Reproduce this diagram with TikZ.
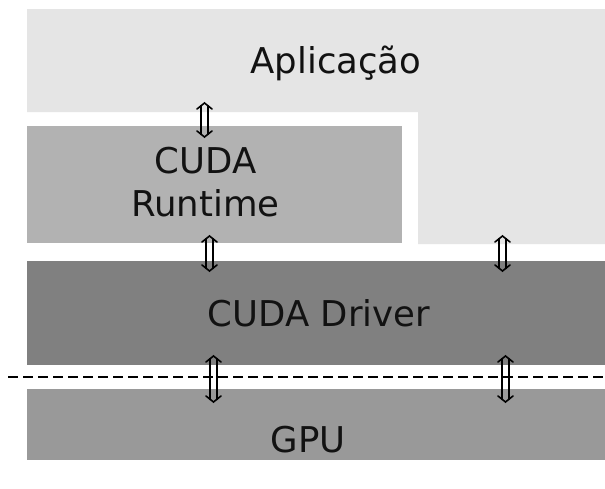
\documentclass[tikz,border=0pt]{standalone}
\usepackage{fontspec}
\setmainfont{DejaVu Sans}
\begin{document}
\begin{tikzpicture}[x=1pt,y=-1pt,
  layer/.style={draw=none,inner sep=0pt,anchor=north west},
  lbl/.style={inner sep=0pt,anchor=base,text=black!93,font=\fontsize{35.5}{43}\selectfont,align=center},
  arr/.style={line width=1.6pt,black,line cap=round,line join=miter},
  sep/.style={line width=2.8pt,black,dash pattern=on 10pt off 5pt}]
\useasboundingbox (0,0) rectangle (605,488);
\fill[white] (0,0) rectangle (605,488);
% Application (L-shape)
\fill[black!10] (27,9) -- (605,9) -- (605,244) -- (418,244) -- (418,112) -- (27,112) -- cycle;
% Layers
\node[layer,fill=black!30,minimum width=375pt,minimum height=117pt] (rt) at (27,126) {};
\node[layer,fill=black!50,minimum width=578pt,minimum height=104pt] (drv) at (27,261) {};
\node[layer,fill=black!40,minimum width=578pt,minimum height=71pt] (gpu) at (27,389) {};
% Labels
\node[lbl] (tapp) at (336,73) {Aplicação};
\node[lbl] (trt) at (205.5,216) {CUDA\\Runtime};
\node[lbl] (tdrv) at (319,326) {CUDA Driver};
\node[lbl] (tgpu) at (308,452) {GPU};
% dashed separator
\coordinate (sl) at (8,377);
\coordinate (sr) at (605,377);
\draw[sep] (sl) -- (sr);
% arrow end points
\coordinate (a1t) at (204.5,103); \coordinate (a1b) at (204.5,137);
\coordinate (a2t) at (209.5,236); \coordinate (a2b) at (209.5,271);
\coordinate (a3t) at (502.5,236); \coordinate (a3b) at (502.5,271);
\coordinate (a4t) at (213.5,356); \coordinate (a4b) at (213.5,402);
\coordinate (a5t) at (505.5,356); \coordinate (a5b) at (505.5,402);
\newcommand\dblarr[2]{%
  \draw[arr] ([shift={(-7.5,6)}]#1) -- (#1) -- ([shift={(7.5,6)}]#1);
  \draw[arr] ([shift={(-7.5,-6)}]#2) -- (#2) -- ([shift={(7.5,-6)}]#2);
  \draw[arr] ([shift={(-3.3,2.6)}]#1) -- ([shift={(-3.3,-2.6)}]#2);
  \draw[arr] ([shift={(3.3,2.6)}]#1) -- ([shift={(3.3,-2.6)}]#2);}
\dblarr{a1t}{a1b}
\dblarr{a2t}{a2b}
\dblarr{a3t}{a3b}
\dblarr{a4t}{a4b}
\dblarr{a5t}{a5b}
\end{tikzpicture}
\end{document}
